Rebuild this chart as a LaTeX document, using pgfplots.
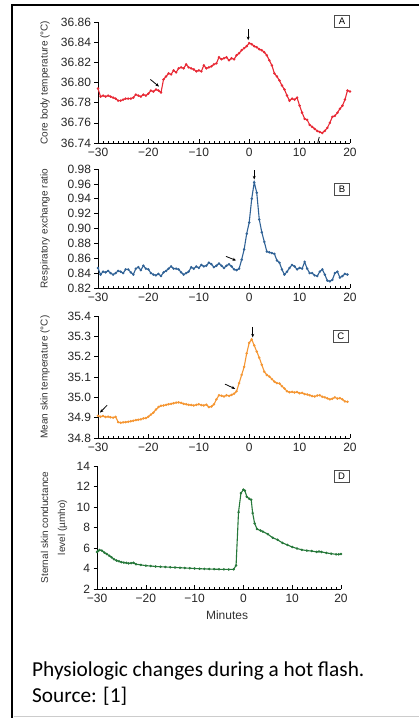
\documentclass[border=0pt]{standalone}
\usepackage{fontspec}
\setmainfont{Liberation Sans}
\newfontfamily\carlito{Carlito}
\usepackage{pgfplots}
\pgfplotsset{compat=1.18}
\usetikzlibrary{arrows.meta}
\definecolor{cA}{RGB}{232,40,52}
\definecolor{cB}{RGB}{48,98,150}
\definecolor{cC}{RGB}{245,150,50}
\definecolor{cD}{RGB}{38,120,58}
\tikzset{
  box/.style={draw=black!70, line width=0.8pt, inner sep=1.5pt, minimum width=15pt, minimum height=12pt, font=\fontsize{9.5}{10}\selectfont},
  arr/.style={-{Stealth[length=3.5pt,width=3pt]}, line width=0.8pt, black},
}
\pgfplotsset{
  panel/.style={
    scale only axis, width=252pt,
    xmin=-30, xmax=20,
    axis lines=left, axis line style={-, line width=0.8pt, black},
    xtick={-30,-20,-10,0,10,20},
    xticklabels={−30,−20,−10,0,10,20},
    minor x tick num=9,
    xtick align=inside, ytick align=outside,
    major tick length=3.5pt, minor tick length=2pt,
    every tick/.style={black, line width=0.6pt},
    tick label style={font=\fontsize{12}{12}\selectfont, text=black!85},
    xticklabel style={yshift=-2pt},
    ylabel style={at={(axis description cs:-0.21,0.5)}, anchor=center, font=\fontsize{10}{12}\selectfont, text=black!80},
    clip=false,
  },
  ser/.style={line width=1.1pt, mark=*, mark size=0.6pt},
}
\begin{document}
\begin{tikzpicture}
\path[use as bounding box] (0pt,0pt) rectangle (419pt,718pt);
\fill[white] (0pt,0pt) rectangle (419pt,718pt);
\draw[line width=2.4pt] (12.2pt,0pt) -- (12.2pt,713pt) -- (419pt,713pt);
\draw[black!20, line width=0.8pt] (13.5pt,2pt) -- (419pt,2pt);

% Panel A
\begin{axis}[panel, at={(98pt,575pt)}, anchor=south west, height=121pt,
  ymin=36.74, ymax=36.86, ytick={36.74,36.76,36.78,36.80,36.82,36.84,36.86},
  yticklabels={36.74,36.76,36.78,36.80,36.82,36.84,36.86},
  ylabel={Core body temperature (°C)}]
\addplot[ser, cA] coordinates {
(-30,36.794)(-29.5,36.786)(-29,36.787)(-28.5,36.786)(-28,36.787)(-27.5,36.786)(-27,36.785)(-26.5,36.784)(-26,36.782)(-25.5,36.782)
(-25,36.783)(-24.5,36.784)(-24,36.784)(-23.5,36.784)(-23,36.785)(-22.5,36.788)(-22,36.787)(-21.5,36.786)(-21,36.788)(-20.5,36.787)
(-20,36.789)(-19.5,36.792)(-19,36.791)(-18.5,36.793)(-18,36.792)(-17.5,36.790)(-17,36.803)(-16.5,36.806)(-16,36.809)(-15.5,36.808)
(-15,36.812)(-14.5,36.810)(-14,36.814)(-13.5,36.815)(-13,36.814)(-12.5,36.818)(-12,36.815)(-11.5,36.814)(-11,36.813)(-10.5,36.811)
(-10,36.812)(-9.5,36.811)(-9,36.817)(-8.5,36.814)(-8,36.815)(-7.5,36.816)(-7,36.818)(-6.5,36.819)(-6,36.825)(-5.5,36.823)
(-5,36.824)(-4.5,36.825)(-4,36.822)(-3.5,36.824)(-3,36.823)(-2.5,36.827)(-2,36.829)(-1.5,36.832)(-1,36.834)(-0.5,36.836)
(0,36.839)(0.5,36.838)(1,36.836)(1.5,36.835)(2,36.833)(2.5,36.832)(3,36.830)(3.5,36.827)(4,36.822)(4.5,36.817)
(5,36.809)(5.5,36.806)(6,36.802)(6.5,36.797)(7,36.793)(7.5,36.787)(8,36.782)(8.5,36.784)(9,36.783)(9.5,36.785)
(10,36.777)(10.5,36.770)(11,36.764)(11.5,36.763)(12,36.758)(12.5,36.756)(13,36.754)(13.5,36.752)(14,36.751)(14.5,36.750)
(15,36.752)(15.5,36.755)(16,36.760)(16.5,36.766)(17,36.767)(17.5,36.770)(18,36.774)(18.5,36.777)(19,36.783)(19.5,36.792)(20,36.791)
};
\draw[arr] (axis cs:-19.6,36.803) -- (axis cs:-17.9,36.796);
\draw[arr] (axis cs:-0.2,36.853) -- (axis cs:-0.2,36.842);
\draw[line width=0.8pt] (axis cs:13.6,36.740) -- (axis cs:13.9,36.746);
\node[box] at (axis description cs:0.968,1.004) {A};
\end{axis}

% Panel B
\begin{axis}[panel, at={(98pt,430pt)}, anchor=south west, height=119pt,
  ymin=0.82, ymax=0.98, ytick={0.82,0.84,0.86,0.88,0.90,0.92,0.94,0.96,0.98},
  yticklabels={0.82,0.84,0.86,0.88,0.90,0.92,0.94,0.96,0.98},
  ylabel={Respiratory exchange ratio}]
\addplot[ser, cB] coordinates {
(-30,0.847)(-29.5,0.838)(-29,0.842)(-28.5,0.841)(-28,0.843)(-27.5,0.840)(-27,0.838)(-26.5,0.840)(-26,0.843)(-25.5,0.842)
(-25,0.840)(-24.5,0.845)(-24,0.845)(-23.5,0.841)(-23,0.838)(-22.5,0.846)(-22,0.848)(-21.5,0.844)(-21,0.850)(-20.5,0.846)
(-20,0.845)(-19.5,0.840)(-19,0.838)(-18.5,0.837)(-18,0.839)(-17.5,0.836)(-17,0.841)(-16.5,0.843)(-16,0.846)(-15.5,0.849)
(-15,0.846)(-14.5,0.846)(-14,0.845)(-13.5,0.841)(-13,0.838)(-12.5,0.840)(-12,0.842)(-11.5,0.848)(-11,0.846)(-10.5,0.849)
(-10,0.847)(-9.5,0.851)(-9,0.849)(-8.5,0.850)(-8,0.854)(-7.5,0.852)(-7,0.848)(-6.5,0.850)(-6,0.853)(-5.5,0.850)
(-5,0.847)(-4.5,0.850)(-4,0.852)(-3.5,0.849)(-3,0.845)(-2.5,0.844)(-2,0.846)(-1.5,0.858)(-1,0.872)(-0.5,0.893)
(0,0.908)(0.5,0.940)(1,0.962)(1.5,0.948)(2,0.912)(2.5,0.895)(3,0.882)(3.5,0.869)(4,0.868)(4.5,0.867)
(5,0.866)(5.5,0.857)(6,0.854)(6.5,0.845)(7,0.838)(7.5,0.842)(8,0.847)(8.5,0.851)(9,0.849)(9.5,0.845)
(10,0.847)(10.5,0.846)(11,0.855)(11.5,0.846)(12,0.840)(12.5,0.840)(13,0.837)(13.5,0.836)(14,0.842)(14.5,0.845)
(15,0.838)(15.5,0.830)(16,0.829)(16.5,0.831)(17,0.840)(17.5,0.842)(18,0.834)(18.5,0.836)(19,0.839)(19.5,0.838)
};
\draw[arr] (axis cs:-4.6,0.8625) -- (axis cs:-2.6,0.857);
\draw[arr] (axis cs:1,0.978) -- (axis cs:1,0.966);
\node[box] at (axis description cs:0.968,0.832) {B};
\end{axis}

% Panel C
\begin{axis}[panel, at={(98pt,280pt)}, anchor=south west, height=122pt,
  ymin=34.8, ymax=35.4, ytick={34.8,34.9,35.0,35.1,35.2,35.3,35.4},
  yticklabels={34.8,34.9,35.0,35.1,35.2,35.3,35.4},
  ylabel={Mean skin temperature (°C)}]
\addplot[ser, cC] coordinates {
(-30,34.910)(-29.5,34.905)(-29,34.908)(-28.5,34.903)(-28,34.905)(-27.5,34.902)(-27,34.900)(-26.5,34.904)(-26,34.878)(-25.5,34.875)
(-25,34.877)(-24.5,34.878)(-24,34.880)(-23.5,34.882)(-23,34.885)(-22.5,34.888)(-22,34.890)(-21.5,34.892)(-21,34.896)(-20.5,34.898)
(-20,34.905)(-19.5,34.915)(-19,34.925)(-18.5,34.940)(-18,34.952)(-17.5,34.958)(-17,34.960)(-16.5,34.963)(-16,34.966)(-15.5,34.968)
(-15,34.971)(-14.5,34.974)(-14,34.975)(-13.5,34.973)(-13,34.968)(-12.5,34.966)(-12,34.963)(-11.5,34.962)(-11,34.960)(-10.5,34.963)
(-10,34.966)(-9.5,34.962)(-9,34.960)(-8.5,34.964)(-8,34.952)(-7.5,34.955)(-7,34.965)(-6.5,34.990)(-6,35.010)(-5.5,35.008)
(-5,35.004)(-4.5,35.010)(-4,35.007)(-3.5,35.012)(-3,35.018)(-2.5,35.030)(-2,35.070)(-1.5,35.110)(-1,35.150)(-0.5,35.216)
(0,35.268)(0.5,35.285)(1,35.255)(1.5,35.225)(2,35.195)(2.5,35.160)(3,35.126)(3.5,35.110)(4,35.102)(4.5,35.090)
(5,35.077)(5.5,35.070)(6,35.068)(6.5,35.055)(7,35.043)(7.5,35.030)(8,35.025)(8.5,35.027)(9,35.024)(9.5,35.026)
(10,35.020)(10.5,35.022)(11,35.016)(11.5,35.014)(12,35.010)(12.5,35.006)(13,35.004)(13.5,35.009)(14,35.010)(14.5,35.003)
(15,35.000)(15.5,34.995)(16,34.990)(16.5,34.993)(17,35.000)(17.5,34.994)(18,34.996)(18.5,34.990)(19,34.980)(19.5,34.978)
};
\draw[arr] (axis cs:-28.2,34.961) -- (axis cs:-29.6,34.925);
\draw[arr] (axis cs:-4.8,35.065) -- (axis cs:-2.8,35.042);
\draw[arr] (axis cs:0.7,35.347) -- (axis cs:0.7,35.295);
\node[box] at (axis description cs:0.964,0.836) {C};
\end{axis}

% Panel D
\begin{axis}[panel, at={(97pt,129pt)}, anchor=south west, width=244pt, height=123pt,
  ymin=2, ymax=14, ytick={2,4,6,8,10,12,14},
  yticklabels={2,4,6,8,10,12,14},
  ylabel={Sternal skin conductance\\level (µmho)},
  ylabel style={at={(axis description cs:-0.176,0.5)}, align=center, font=\fontsize{10}{17}\selectfont},
  xlabel={Minutes},
  xlabel style={at={(axis description cs:0.533,-0.21)}, anchor=center, font=\fontsize{12}{12}\selectfont, text=black!80}]
\addplot[ser, cD] coordinates {
(-30,5.6)(-29.8,5.71)(-29.5,5.8)(-29,5.75)(-28.5,5.55)(-28,5.42)(-27.5,5.25)(-27,5.09)(-26.5,4.9)(-26,4.77)
(-25.5,4.7)(-25,4.62)(-24.5,4.58)(-24,4.55)(-23.5,4.5)(-23,4.52)(-22.5,4.56)(-22,4.42)(-21,4.35)(-20,4.28)
(-19,4.24)(-18,4.2)(-17,4.17)(-16,4.15)(-15,4.12)(-14,4.1)(-13,4.08)(-12,4.05)(-11,4.03)(-10,4.0)
(-9,3.98)(-8,3.96)(-7,3.95)(-6,3.93)(-5,3.92)(-4,3.92)(-3,3.91)(-2,3.92)(-1.5,4.3)(-1.0,9.5)
(-0.5,11.35)(0,11.7)(0.3,11.6)(0.7,11.0)(1.2,10.8)(1.6,10.7)(1.9,9.4)(2.3,8.4)(2.8,7.85)(3.5,7.7)
(4,7.6)(5,7.35)(6,7.0)(7,6.8)(8,6.5)(9,6.3)(10,6.1)(11,5.95)(12,5.82)(13,5.75)
(14,5.7)(15,5.62)(15.5,5.66)(16,5.62)(17,5.52)(18,5.45)(19,5.38)(19.5,5.38)(20,5.42)
};
\node[box] at (axis description cs:1.002,0.915) {D};
\end{axis}

\node[anchor=base west, font=\carlito\fontsize{21.3}{24}\selectfont, inner sep=0pt] at (32pt,41pt) {Physiologic changes during a hot flash.};
\node[anchor=base west, font=\carlito\fontsize{21.3}{24}\selectfont, inner sep=0pt] at (32pt,16pt) {Source: [1]};
\end{tikzpicture}
\end{document}
